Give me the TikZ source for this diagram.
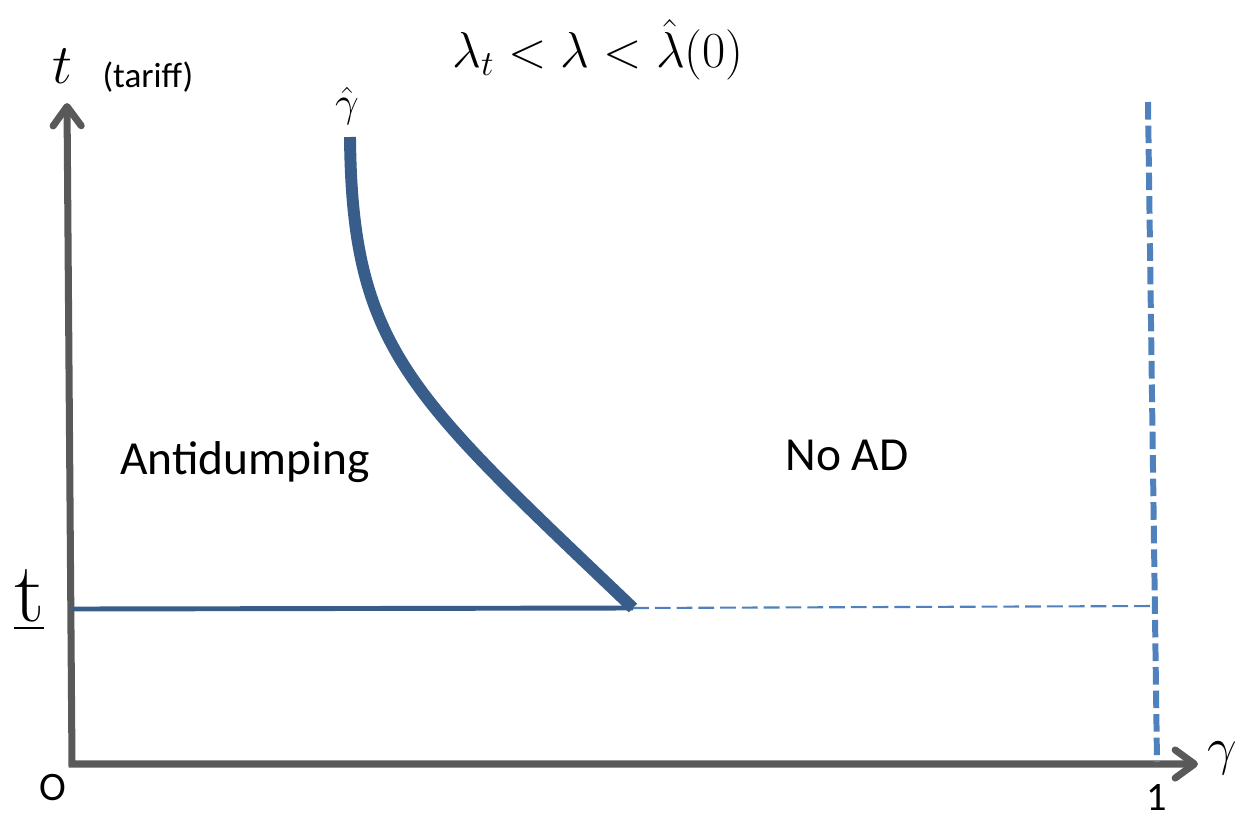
\RequirePackage{fix-cm}
\documentclass[tikz,border=0pt]{standalone}
\usepackage[no-math]{fontspec}
\usepackage{amsmath}
\usepackage{xcolor}
\newfontfamily\calib{Carlito}
\usetikzlibrary{arrows.meta}
\definecolor{axisgray}{HTML}{595959}
\definecolor{curveblue}{HTML}{385D8A}
\definecolor{dashblue}{HTML}{4F81BD}

\begin{document}
\begin{tikzpicture}[x=0.02cm, y=-0.02cm,
    >={Straight Barb[length=11pt, width=16pt, line cap=round, line join=round]},
    axis/.style={axisgray, line width=4pt, line join=miter},
    bound/.style={curveblue, line width=6.8pt, line join=round},
    floor/.style={curveblue, line width=2.8pt},
    thindash/.style={dashblue, line width=1.2pt, dash pattern=on 9pt off 3.4pt},
    thickdash/.style={dashblue, line width=3.4pt, dash pattern=on 10pt off 3.4pt},
    lbl/.style={font=\calib\fontsize{27}{32}\selectfont},
    ticklbl/.style={font=\calib\fontsize{23}{26}\selectfont, inner sep=0pt}]
    \useasboundingbox (0,0) rectangle (1242,819);

    % axes
    \coordinate (O) at (72,764);
    \coordinate (ytip) at (67,103);
    \coordinate (xtip) at (1198,764);
    \draw[axis, <->] (ytip) -- (O) -- (xtip);

    % boundary gamma hat and the lower tariff
    \coordinate (g0) at (350,137);
    \coordinate (kink) at (633,608);
    \coordinate (tl) at (72,609);
    \coordinate (hend) at (1157,606);
    \coordinate (vtop) at (1148,102);
    \coordinate (vbot) at (1157,762);
    \draw[bound] (g0) .. controls (352,350) and (410,395) .. (kink);
    \draw[floor] (tl) -- (kink);
    \draw[thindash] (kink) -- (hend);
    \draw[thickdash] (vtop) -- (vbot);

    % labels
    \node (title) at (598,50) {\fontsize{28.7}{32}\selectfont$\lambda_t<\lambda<\hat{\lambda}(0)$};
    \node (tlab) at (62,66) {\fontsize{32}{36}\selectfont$t$};
    \node[font=\calib\fontsize{20}{24}\selectfont] (tariff) at (148,77) {(tariff)};
    \node (ghat) at (347,106) {\fontsize{24}{28}\selectfont$\hat{\gamma}$};
    \node (glab) at (1222,758) {\fontsize{30}{34}\selectfont$\gamma$};
    \node (tunder) at (29,600) {\fontsize{48}{52}\selectfont$\underline{\mathrm{t}}$};
    \node[ticklbl] (zero) at (53,788) {O};
    \node[ticklbl] (one) at (1157,797) {1};
    \node[lbl] (antid) at (245,462) {Antidumping};
    \node[lbl] (noad) at (847,455) {No AD};
\end{tikzpicture}
\end{document}
